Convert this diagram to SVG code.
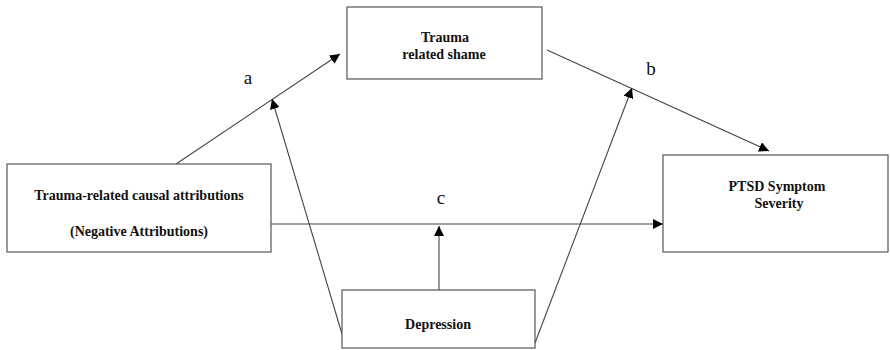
<svg xmlns="http://www.w3.org/2000/svg" width="890" height="350" viewBox="0 0 890 350">
<defs>
<marker id="ah" viewBox="0 0 10 10" refX="10" refY="5" markerWidth="10" markerHeight="10" markerUnits="userSpaceOnUse" orient="auto">
<path d="M0,0 L10,5 L0,10 Z" fill="#000"/>
</marker>
<style>
.box{fill:#fff;stroke:#555;stroke-width:1.2}
.t{font-family:'Liberation Serif','Times New Roman',serif;font-weight:700;font-size:14px;fill:#111;text-anchor:middle}
.lbl{font-family:'Liberation Serif','Times New Roman',serif;font-size:19px;fill:#111;text-anchor:middle}
.c{stroke:#444;stroke-width:1.1;fill:none;marker-end:url(#ah)}
</style>
</defs>
<rect width="890" height="350" fill="#fff"/>
<g id="connectors">
<line class="c" x1="176" y1="164" x2="340" y2="54"/>
<line class="c" x1="342" y1="334" x2="272" y2="99"/>
<line class="c" x1="547" y1="50" x2="769" y2="151"/>
<line class="c" x1="535" y1="343" x2="632" y2="88"/>
<line class="c" x1="271" y1="224" x2="663" y2="224"/>
<line class="c" x1="439" y1="290" x2="439" y2="226"/>
</g>
<g id="labels">
<text class="lbl" x="248" y="84">a</text>
<text class="lbl" x="651" y="75">b</text>
<text class="lbl" x="441" y="204">c</text>
</g>
<g id="shame">
<rect class="box" x="347" y="7" width="195" height="72"/>
<text class="t" x="445" y="42">Trauma</text>
<text class="t" x="444" y="59">related shame</text>
</g>
<g id="attributions">
<rect class="box" x="7" y="164" width="264" height="88"/>
<text class="t" x="139" y="200">Trauma-related causal attributions</text>
<text class="t" x="139" y="236">(Negative Attributions)</text>
</g>
<g id="ptsd">
<rect class="box" x="663" y="155" width="225" height="97"/>
<text class="t" x="777" y="191">PTSD Symptom</text>
<text class="t" x="779" y="208">Severity</text>
</g>
<g id="depression">
<rect class="box" x="342" y="290" width="193" height="58"/>
<text class="t" x="438" y="329">Depression</text>
</g>
</svg>
